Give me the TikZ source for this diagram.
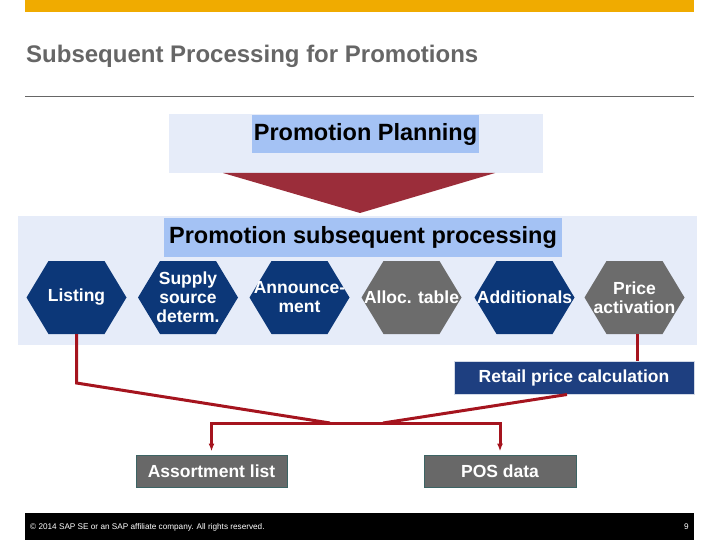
\documentclass[tikz,border=0pt]{standalone}
\usepackage{fontspec}
\setmainfont{Liberation Sans}
\usetikzlibrary{arrows.meta}

\definecolor{sapgold}{RGB}{240,171,0}
\definecolor{titlegrey}{RGB}{102,102,102}
\definecolor{panelblue}{RGB}{230,236,249}
\definecolor{marker}{RGB}{164,194,244}
\definecolor{wedge}{RGB}{155,45,58}
\definecolor{hexnavy}{RGB}{12,55,120}
\definecolor{hexgrey}{RGB}{108,108,108}
\definecolor{flowred}{RGB}{165,20,30}
\definecolor{retailblue}{RGB}{30,63,128}
\definecolor{outgrey}{RGB}{104,104,104}
\definecolor{outrim}{RGB}{60,100,100}

\newcommand{\headfont}{\fontsize{24}{28}\selectfont\bfseries}
\newcommand{\barfont}{\fontsize{23.5}{27}\selectfont\bfseries}
\newcommand{\hexfont}{\fontsize{17.5}{19}\selectfont\bfseries}

\tikzset{
  hexnode/.style={minimum width=100pt, minimum height=73pt, inner sep=0pt,
    text=white, font=\hexfont, align=center,
    path picture={\fill[#1] (path picture bounding box.west)
      -- ([xshift=22pt]path picture bounding box.north west)
      -- ([xshift=-22pt]path picture bounding box.north east)
      -- (path picture bounding box.east)
      -- ([xshift=-22pt]path picture bounding box.south east)
      -- ([xshift=22pt]path picture bounding box.south west) -- cycle;}},
  markbox/.style={fill=marker, inner sep=0pt, font=\barfont},
  outbox/.style={fill=outgrey, draw=outrim, line width=1pt, text=white,
    font=\hexfont, minimum height=32pt, inner sep=0pt},
  redline/.style={draw=flowred, line width=3pt},
  redarrow/.style={redline, -{Latex[length=8pt,width=6pt]}, shorten >=3pt}
}

\begin{document}
\begin{tikzpicture}[x=1pt,y=-1pt]
\useasboundingbox (0,0) rectangle (720,540);
% header
\fill[sapgold] (25,0) rectangle (694,12);
\node[anchor=base west, text=titlegrey, font=\headfont, inner sep=0pt] (title) at (26,63) {Subsequent Processing for Promotions};
\draw[titlegrey, line width=1pt] (25,97) -- (694,97);

% planning
\fill[panelblue] (169,114) rectangle (543,173);
\node[markbox, minimum width=227pt, minimum height=38pt] (plan) at (365.5,134) {Promotion Planning};
\fill[wedge] (223,173) -- (495,173) -- (360,213) -- cycle;

% subsequent processing
\fill[panelblue] (18,216) rectangle (697,345);
\node[markbox, minimum width=398pt, minimum height=39pt] (proc) at (363,237.5) {Promotion subsequent processing};

\node[hexnode=hexnavy] (listing)  at (76.5,297.5)  {Listing};
\node[hexnode=hexnavy] (supply)   at (188,297.5)   {Supply\\source\\determ.};
\node[hexnode=hexnavy] (announce) at (299.5,297.5) {Announce-\\ment};
\node[hexnode=hexgrey] (alloc)    at (411.5,297.5) {Alloc. table};
\node[hexnode=hexnavy] (addit)    at (524.5,297.5) {Additionals};
\node[hexnode=hexgrey] (priceact) at (634.5,297.5) {Price\\activation};

% results
\node[fill=retailblue, draw=white!80!retailblue, line width=1pt, text=white, font=\hexfont,
  minimum width=240pt, minimum height=33pt, inner sep=0pt] (retail) at (574,377.5) {Retail price calculation};
\node[outbox, minimum width=151pt] (assort)  at (211.5,471) {Assortment list};
\node[outbox, minimum width=152pt] (posdata) at (500,471)   {POS data};

% connectors
\coordinate (bendl) at (76.5,383);
\coordinate (joinl) at (330,423);
\coordinate (joinr) at (383,423);
\draw[redline] (listing.south) -- (bendl) -- (joinl);
\draw[redline] ([xshift=2.5pt]priceact.south) -- ([xshift=2.5pt]priceact.south |- retail.north);
\draw[redline] ([xshift=-7pt]retail.south) -- (joinr);
\draw[redarrow] (joinl) -| (assort.north);
\draw[redarrow] (joinl) -| (posdata.north);

% footer
\fill[black] (25,513) rectangle (694,540);
\node[anchor=west, text=white, font=\fontsize{8.2}{10}\selectfont, inner sep=0pt] (copy) at (30,527) {\textcopyright{} 2014 SAP SE or an SAP affiliate company. All rights reserved.};
\node[anchor=east, text=white, font=\fontsize{8.2}{10}\selectfont, inner sep=0pt] (page) at (689,527) {9};
\end{tikzpicture}
\end{document}
